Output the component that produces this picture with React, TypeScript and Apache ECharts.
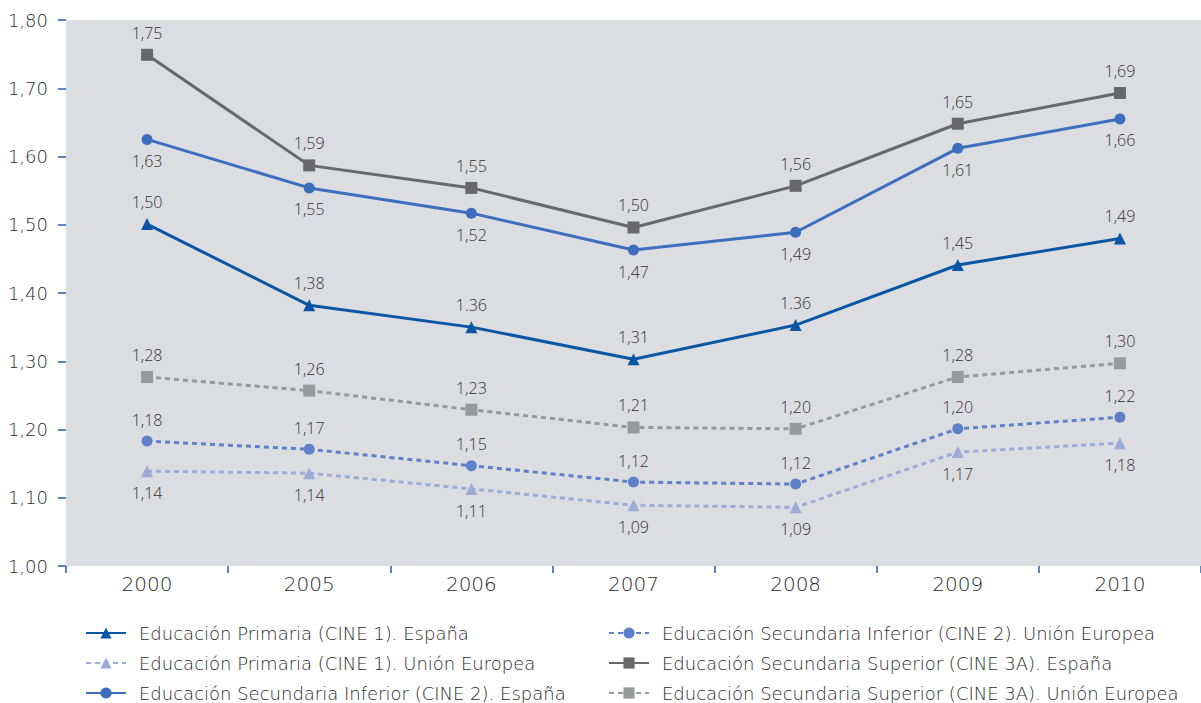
import React, { useEffect, useRef } from "react";
import * as echarts from "echarts";

const years = ["2000", "2005", "2006", "2007", "2008", "2009", "2010"];

const primariaEsp = [1.501, 1.382, 1.35, 1.303, 1.353, 1.441, 1.48];
const primariaEspLabels = ["1,50", "1,38", "1.36", "1,31", "1.36", "1,45", "1,49"];
const primariaUE = [1.139, 1.136, 1.113, 1.089, 1.086, 1.167, 1.18];
const primariaUELabels = ["1,14", "1,14", "1,11", "1,09", "1,09", "1,17", "1,18"];
const secInfEsp = [1.625, 1.554, 1.517, 1.463, 1.489, 1.612, 1.655];
const secInfEspLabels = ["1,63", "1,55", "1,52", "1,47", "1,49", "1,61", "1,66"];
const secInfUE = [1.183, 1.171, 1.147, 1.123, 1.12, 1.201, 1.218];
const secInfUELabels = ["1,18", "1,17", "1,15", "1,12", "1,12", "1,20", "1,22"];
const secSupEsp = [1.749, 1.587, 1.554, 1.496, 1.557, 1.648, 1.693];
const secSupEspLabels = ["1,75", "1,59", "1,55", "1,50", "1,56", "1,65", "1,69"];
const secSupUE = [1.277, 1.257, 1.229, 1.203, 1.201, 1.277, 1.297];
const secSupUELabels = ["1,28", "1,26", "1,23", "1,21", "1,20", "1,28", "1,30"];

const yTicks = ["1,00", "1,10", "1,20", "1,30", "1,40", "1,50", "1,60", "1,70", "1,80"];

const names = [
  "Educación Primaria (CINE 1). España",
  "Educación Primaria (CINE 1). Unión Europea",
  "Educación Secundaria Inferior (CINE 2). España",
  "Educación Secundaria Inferior (CINE 2). Unión Europea",
  "Educación Secundaria Superior (CINE 3A). España",
  "Educación Secundaria Superior (CINE 3A). Unión Europea",
];

const FONT = "'Open Sans', sans-serif";
const WIDE = "'DejaVu Sans', sans-serif";
const TXT = "#2a2a2a";

function mk(
  name: string,
  data: number[],
  labels: string[],
  color: string,
  dashed: boolean,
  symbol: string,
  symbolSize: number,
  pos: "top" | "bottom"
) {
  return {
    name,
    type: "line",
    data,
    symbol,
    symbolSize,
    color,
    lineStyle: { color, width: 3, type: dashed ? [5, 4] : "solid" },
    itemStyle: { color },
    label: {
      show: true,
      position: pos,
      distance: 8,
      color: "#333333",
      fontFamily: FONT,
      fontWeight: 300,
      fontSize: 16,
      formatter: (p: any) => labels[p.dataIndex],
    },
  };
}

export default function App() {
  const ref = useRef<HTMLDivElement>(null);
  useEffect(() => {
    const chart = echarts.init(ref.current!, undefined, { renderer: "svg" });
    const legendText = {
      color: TXT,
      fontFamily: WIDE,
      fontWeight: 300,
      fontSize: 18,
      lineHeight: 20,
      padding: [0, 0, 0, 8],
    };
    const legendBase = {
      orient: "vertical",
      top: 623,
      height: 100,
      padding: 0,
      itemWidth: 40,
      itemHeight: 14,
      itemGap: 10,
      textStyle: legendText,
    };
    chart.setOption({
      animation: false,
      backgroundColor: "#ffffff",
      grid: { left: 66, right: 0, top: 20, bottom: 137 },
      legend: [
        { ...legendBase, left: 85, data: names.slice(0, 3) },
        { ...legendBase, left: 608, data: names.slice(3) },
      ],
      xAxis: {
        type: "category",
        data: years,
        boundaryGap: true,
        axisLine: { show: false },
        axisTick: { show: true, length: 7, lineStyle: { color: "#1f5fa8", width: 1.5 } },
        axisLabel: { color: TXT, fontFamily: WIDE, fontWeight: 300, fontSize: 20, margin: 8 },
        splitLine: { show: true, lineStyle: { color: "#ffffff", width: 1.5 } },
      },
      yAxis: {
        type: "value",
        min: 1.0,
        max: 1.8,
        interval: 0.1,
        axisLine: { show: false },
        axisTick: { show: true, length: 8, lineStyle: { color: "#1f5fa8", width: 1.5 } },
        axisLabel: {
          color: TXT,
          fontFamily: WIDE,
          fontWeight: 300,
          fontSize: 18,
          margin: 18,
          formatter: (v: number) => yTicks[Math.round((v - 1) * 10)],
        },
        splitLine: { show: true, lineStyle: { color: "#ffffff", width: 1.5 } },
      },
      series: [
        {
          type: "line",
          data: [],
          silent: true,
          markArea: {
            silent: true,
            itemStyle: { color: "#dcdde0" },
            data: [[{ yAxis: 1.0, x: 66 }, { yAxis: 1.8, x: 1201 }]],
          },
          z: 0,
        },
        mk(names[0], primariaEsp, primariaEspLabels, "#0b56a4", false, "triangle", 12, "top"),
        mk(names[1], primariaUE, primariaUELabels, "#9dabd9", true, "triangle", 12, "bottom"),
        mk(names[2], secInfEsp, secInfEspLabels, "#3d6dbd", false, "circle", 11, "bottom"),
        mk(names[3], secInfUE, secInfUELabels, "#5f80c8", true, "circle", 11, "top"),
        mk(names[4], secSupEsp, secSupEspLabels, "#68686a", false, "rect", 12, "top"),
        mk(names[5], secSupUE, secSupUELabels, "#98999b", true, "rect", 12, "top"),
      ],
    });
    return () => chart.dispose();
  }, []);
  return <div ref={ref} style={{ width: 1201, height: 703, position: "absolute", left: 0, top: 0 }} />;
}
